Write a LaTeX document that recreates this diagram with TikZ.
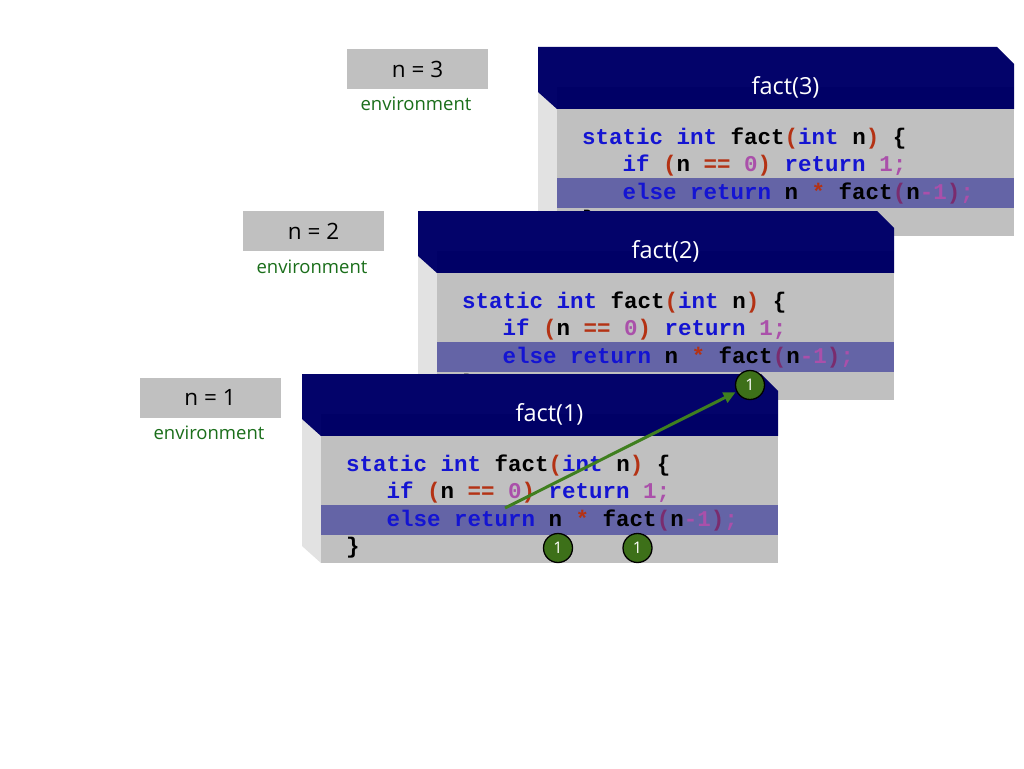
\documentclass[tikz,border=0pt]{standalone}
\usepackage{fontspec}
\setmainfont{Open Sans}
\newfontfamily\codefont{Liberation Mono}
\usetikzlibrary{arrows.meta}
\definecolor{hdrnavy}{HTML}{000066}
\definecolor{topnavy}{HTML}{03036A}
\definecolor{bodygray}{HTML}{C0C0C0}
\definecolor{sidegray}{HTML}{E2E2E2}
\definecolor{hilite}{HTML}{6464A6}
\definecolor{kwblue}{HTML}{1414D2}
\definecolor{prred}{HTML}{B43214}
\definecolor{nmpurple}{HTML}{AA50AA}
\definecolor{pupurple}{HTML}{7A2C6E}
\definecolor{envgreen}{HTML}{1A6E1A}
\definecolor{bubgreen}{HTML}{3D7019}
\definecolor{arrgreen}{HTML}{3F7F1F}
\newcommand\kw[1]{\textcolor{kwblue}{#1}}
\newcommand\pr[1]{\textcolor{prred}{#1}}
\newcommand\nm[1]{\textcolor{nmpurple}{#1}}
\newcommand\pu[1]{\textcolor{pupurple}{#1}}
\tikzset{
  code/.style={font=\codefont\bfseries\fontsize{22.5}{27}\selectfont\frenchspacing, inner sep=0pt, text=black, anchor=base west},
  title/.style={font=\fontsize{23.5}{26}\selectfont, text=white, inner sep=0pt},
  envbox/.style={fill=bodygray, minimum width=141pt, minimum height=40pt, inner sep=0pt, font=\fontsize{22.5}{24}\selectfont, text=black},
  envlbl/.style={font=\fontsize{18.5}{20}\selectfont, text=envgreen, inner sep=0pt},
  bubble/.style={circle, fill=bubgreen, draw=black, line width=1.3pt, minimum size=29pt, inner sep=0pt, text=white, font=\fontsize{16}{16}\selectfont},
  arrowst/.style={draw=arrgreen, line width=3pt, -{Triangle[length=12pt,width=11pt]}, shorten >=1pt},
}
\newcommand\factframe[3]{%
\begin{scope}[shift={(#1,#2)}]
  \fill[sidegray] (0,0) -- (19,17) -- (19,189) -- (0,172) -- cycle;
  \fill[topnavy] (0,0) -- (459,0) -- (476,17) -- (476,62) -- (19,62) -- (0,45) -- cycle;
  \fill[hdrnavy] (19,40) rectangle (476,62);
  \fill[bodygray] (19,62) rectangle (476,189);
  \fill[hilite] (19,131) rectangle (476,161);
  \node[title] (t#3) at (247.5,40) {fact(#3)};
  \node[code] (c#3a) at (44,97) {\kw{static} \kw{int} fact\pr{(}\kw{int} n\pr{)} \{};
  \node[code] (c#3b) at (84.5,124.5) {\kw{if} \pr{(}n \pr{==} \nm{0}\pr{)} \kw{return} \nm{1;}};
  \node[code] (c#3c) at (84.5,152) {\kw{else} \kw{return} n \pr{*} fact\pu{(}n\nm{-1}\pu{)}\nm{;}};
  \node[code] (c#3d) at (44,179.5) {\}};
\end{scope}}
\begin{document}
\begin{tikzpicture}[x=1pt,y=-1pt]
\useasboundingbox[fill=white] (0,0) rectangle (1024,768);
% environment labels
\node[envbox] (n3) at (417.5,69) {n = 3};
\node[envlbl] (e3) at (416,104) {environment};
\node[envbox] (n2) at (313.5,231) {n = 2};
\node[envlbl] (e2) at (312,267) {environment};
\node[envbox] (n1) at (210,397.5) {n = 1};
\node[envlbl] (e1) at (209,433) {environment};
% frames
\factframe{538}{47}{3}
\factframe{418}{211}{2}
\factframe{302}{374}{1}
% bubbles and arrow
\node[bubble] (b1) at (750,385) {1};
\node[bubble] (b2) at (558,548) {1};
\node[bubble] (b3) at (637.5,548) {1};
\coordinate (asrc) at (505,508);
\draw[arrowst] (asrc) -- (b1);
\end{tikzpicture}
\end{document}
